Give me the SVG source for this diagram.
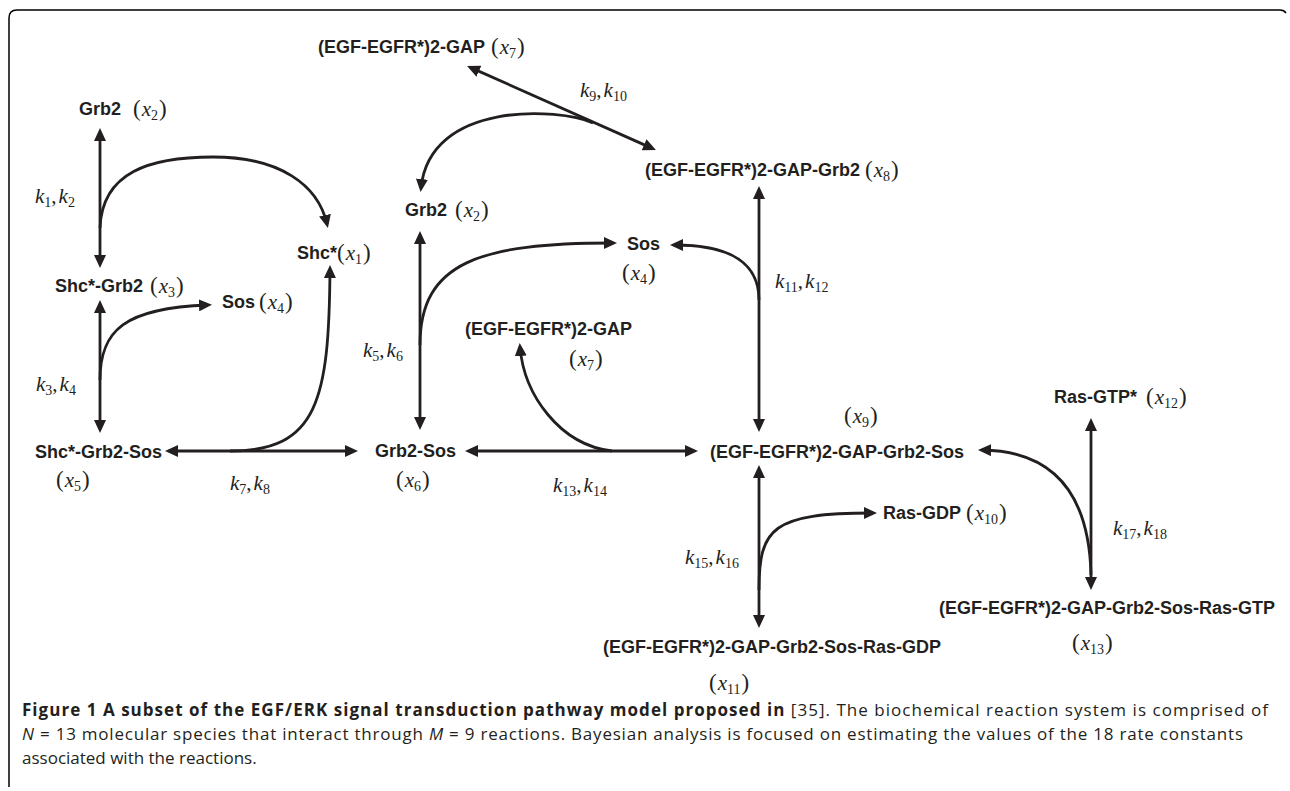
<svg xmlns="http://www.w3.org/2000/svg" width="1290" height="791" viewBox="0 0 1290 791">
<defs>
<style>
.n{font-family:"Liberation Sans",Arial,sans-serif;font-weight:bold;font-size:18px;fill:#231f20}
.m{font-family:"Liberation Serif","Times New Roman",serif;font-size:21px;fill:#231f20}
.p{font-size:23px}
.i{font-style:italic}
.s{font-size:14px;font-style:normal}
.c{font-family:"Open Sans","Noto Sans",sans-serif;font-size:17px;fill:#231f20}
.b{font-weight:bold}
.ln{fill:none;stroke:#231f20;stroke-width:2.8}
.fr{fill:none;stroke:#000;stroke-width:1.5}
</style>
<marker id="ah" viewBox="0 0 13 12" refX="9" refY="6" markerWidth="13" markerHeight="12" orient="auto-start-reverse" markerUnits="userSpaceOnUse">
<path d="M0,0 L13,6 L0,12 z" fill="#231f20"/>
</marker>
</defs>
<rect width="1290" height="791" fill="#fff"/>
<path class="fr" d="M9,787 L9,18 Q9,10 17,10 L1280,10 Q1284,10 1286,13"/>

<g id="connectors">
<path class="ln" d="M100,132 L100,264" marker-start="url(#ah)" marker-end="url(#ah)"/>
<path class="ln" d="M100,228 C102,172 150,157 213,157 C280,157 318,185 327,224" marker-end="url(#ah)"/>
<path class="ln" d="M100,304 L100,429" marker-start="url(#ah)" marker-end="url(#ah)"/>
<path class="ln" d="M100,380 C100,330 125,308 208,305" marker-end="url(#ah)"/>
<path class="ln" d="M169,451 L354,451" marker-start="url(#ah)" marker-end="url(#ah)"/>
<path class="ln" d="M230,451 C318,451 329,400 330,269" marker-end="url(#ah)"/>
<path class="ln" d="M470.7,67.6 L652.3,148.4" marker-start="url(#ah)" marker-end="url(#ah)"/>
<path class="ln" d="M593,123 C560,108 430,100 421,188" marker-end="url(#ah)"/>
<path class="ln" d="M420,235 L420,426" marker-start="url(#ah)" marker-end="url(#ah)"/>
<path class="ln" d="M420,345 C420,262 480,243 613,243" marker-end="url(#ah)"/>
<path class="ln" d="M759,190 L759,428" marker-start="url(#ah)" marker-end="url(#ah)"/>
<path class="ln" d="M759,300 C759,262 730,245 674,245" marker-end="url(#ah)"/>
<path class="ln" d="M612,451 C560,445 524,395 520,347" marker-end="url(#ah)"/>
<path class="ln" d="M469,451 L694,451" marker-start="url(#ah)" marker-end="url(#ah)"/>
<path class="ln" d="M759,469 L759,624" marker-start="url(#ah)" marker-end="url(#ah)"/>
<path class="ln" d="M759,590 C759,528 772,513 873,513" marker-end="url(#ah)"/>
<path class="ln" d="M1091,422 L1091,586" marker-start="url(#ah)" marker-end="url(#ah)"/>
<path class="ln" d="M1091,575 C1089,490 1050,451 982,450" marker-end="url(#ah)"/>
</g>

<g id="rate-labels">
<text class="m" x="35" y="203"><tspan class="i">k</tspan><tspan class="s" dy="4">1</tspan><tspan dy="-4">,</tspan><tspan class="i" dx="2">k</tspan><tspan class="s" dy="4">2</tspan></text>
<text class="m" x="36" y="391"><tspan class="i">k</tspan><tspan class="s" dy="4">3</tspan><tspan dy="-4">,</tspan><tspan class="i" dx="2">k</tspan><tspan class="s" dy="4">4</tspan></text>
<text class="m" x="363" y="357"><tspan class="i">k</tspan><tspan class="s" dy="4">5</tspan><tspan dy="-4">,</tspan><tspan class="i" dx="2">k</tspan><tspan class="s" dy="4">6</tspan></text>
<text class="m" x="230" y="490"><tspan class="i">k</tspan><tspan class="s" dy="4">7</tspan><tspan dy="-4">,</tspan><tspan class="i" dx="2">k</tspan><tspan class="s" dy="4">8</tspan></text>
<text class="m" x="580" y="97"><tspan class="i">k</tspan><tspan class="s" dy="4">9</tspan><tspan dy="-4">,</tspan><tspan class="i" dx="2">k</tspan><tspan class="s" dy="4">10</tspan></text>
<text class="m" x="775" y="288"><tspan class="i">k</tspan><tspan class="s" dy="4">11</tspan><tspan dy="-4">,</tspan><tspan class="i" dx="2">k</tspan><tspan class="s" dy="4">12</tspan></text>
<text class="m" x="553" y="492"><tspan class="i">k</tspan><tspan class="s" dy="4">13</tspan><tspan dy="-4">,</tspan><tspan class="i" dx="2">k</tspan><tspan class="s" dy="4">14</tspan></text>
<text class="m" x="685" y="564"><tspan class="i">k</tspan><tspan class="s" dy="4">15</tspan><tspan dy="-4">,</tspan><tspan class="i" dx="2">k</tspan><tspan class="s" dy="4">16</tspan></text>
<text class="m" x="1113" y="535"><tspan class="i">k</tspan><tspan class="s" dy="4">17</tspan><tspan dy="-4">,</tspan><tspan class="i" dx="2">k</tspan><tspan class="s" dy="4">18</tspan></text>
</g>

<g id="grb2-left">
<text class="n" x="79" y="115">Grb2</text>
<text class="m" x="133" y="116"><tspan class="p">(</tspan><tspan class="i" dx="1">x</tspan><tspan class="s" dy="4">2</tspan><tspan class="p" dy="-4" dx="1">)</tspan></text>
</g>
<g id="shc">
<text class="n" x="297" y="259">Shc*</text>
<text class="m" x="337" y="260"><tspan class="p">(</tspan><tspan class="i" dx="1">x</tspan><tspan class="s" dy="4">1</tspan><tspan class="p" dy="-4" dx="1">)</tspan></text>
</g>
<g id="shc-grb2">
<text class="n" x="55" y="292">Shc*-Grb2</text>
<text class="m" x="150" y="293"><tspan class="p">(</tspan><tspan class="i" dx="1">x</tspan><tspan class="s" dy="4">3</tspan><tspan class="p" dy="-4" dx="1">)</tspan></text>
</g>
<g id="sos-left">
<text class="n" x="222" y="308">Sos</text>
<text class="m" x="259" y="309"><tspan class="p">(</tspan><tspan class="i" dx="1">x</tspan><tspan class="s" dy="4">4</tspan><tspan class="p" dy="-4" dx="1">)</tspan></text>
</g>
<g id="shc-grb2-sos">
<text class="n" x="35" y="458">Shc*-Grb2-Sos</text>
<text class="m" x="56" y="487"><tspan class="p">(</tspan><tspan class="i" dx="1">x</tspan><tspan class="s" dy="4">5</tspan><tspan class="p" dy="-4" dx="1">)</tspan></text>
</g>
<g id="gap-top">
<text class="n" x="318" y="53">(EGF-EGFR*)2-GAP</text>
<text class="m" x="491" y="54"><tspan class="p">(</tspan><tspan class="i" dx="1">x</tspan><tspan class="s" dy="4">7</tspan><tspan class="p" dy="-4" dx="1">)</tspan></text>
</g>
<g id="gap-grb2">
<text class="n" x="645" y="176">(EGF-EGFR*)2-GAP-Grb2</text>
<text class="m" x="865" y="177"><tspan class="p">(</tspan><tspan class="i" dx="1">x</tspan><tspan class="s" dy="4">8</tspan><tspan class="p" dy="-4" dx="1">)</tspan></text>
</g>
<g id="grb2-center">
<text class="n" x="405" y="216">Grb2</text>
<text class="m" x="455" y="217"><tspan class="p">(</tspan><tspan class="i" dx="1">x</tspan><tspan class="s" dy="4">2</tspan><tspan class="p" dy="-4" dx="1">)</tspan></text>
</g>
<g id="sos-center">
<text class="n" x="627" y="250">Sos</text>
<text class="m" x="622" y="280"><tspan class="p">(</tspan><tspan class="i" dx="1">x</tspan><tspan class="s" dy="4">4</tspan><tspan class="p" dy="-4" dx="1">)</tspan></text>
</g>
<g id="gap-mid">
<text class="n" x="465" y="335">(EGF-EGFR*)2-GAP</text>
<text class="m" x="569" y="366"><tspan class="p">(</tspan><tspan class="i" dx="1">x</tspan><tspan class="s" dy="4">7</tspan><tspan class="p" dy="-4" dx="1">)</tspan></text>
</g>
<g id="grb2-sos">
<text class="n" x="375" y="457">Grb2-Sos</text>
<text class="m" x="396" y="487"><tspan class="p">(</tspan><tspan class="i" dx="1">x</tspan><tspan class="s" dy="4">6</tspan><tspan class="p" dy="-4" dx="1">)</tspan></text>
</g>
<g id="gap-grb2-sos">
<text class="m" x="844" y="423"><tspan class="p">(</tspan><tspan class="i" dx="1">x</tspan><tspan class="s" dy="4">9</tspan><tspan class="p" dy="-4" dx="1">)</tspan></text>
<text class="n" x="710" y="458">(EGF-EGFR*)2-GAP-Grb2-Sos</text>
</g>
<g id="ras-gdp">
<text class="n" x="883" y="519">Ras-GDP</text>
<text class="m" x="966" y="520"><tspan class="p">(</tspan><tspan class="i" dx="1">x</tspan><tspan class="s" dy="4">10</tspan><tspan class="p" dy="-4" dx="1">)</tspan></text>
</g>
<g id="gap-grb2-sos-ras-gdp">
<text class="n" x="603" y="653">(EGF-EGFR*)2-GAP-Grb2-Sos-Ras-GDP</text>
<text class="m" x="709" y="690"><tspan class="p">(</tspan><tspan class="i" dx="1">x</tspan><tspan class="s" dy="4">11</tspan><tspan class="p" dy="-4" dx="1">)</tspan></text>
</g>
<g id="ras-gtp">
<text class="n" x="1054" y="403">Ras-GTP*</text>
<text class="m" x="1146" y="404"><tspan class="p">(</tspan><tspan class="i" dx="1">x</tspan><tspan class="s" dy="4">12</tspan><tspan class="p" dy="-4" dx="1">)</tspan></text>
</g>
<g id="gap-grb2-sos-ras-gtp">
<text class="n" x="939" y="614">(EGF-EGFR*)2-GAP-Grb2-Sos-Ras-GTP</text>
<text class="m" x="1072" y="650"><tspan class="p">(</tspan><tspan class="i" dx="1">x</tspan><tspan class="s" dy="4">13</tspan><tspan class="p" dy="-4" dx="1">)</tspan></text>
</g>

<g id="caption">
<text class="c" x="22" y="716" textLength="1246"><tspan class="b">Figure 1 A subset of the EGF/ERK signal transduction pathway model proposed in</tspan> [35]. The biochemical reaction system is comprised of</text>
<text class="c" x="22" y="740" textLength="1221"><tspan font-style="italic">N</tspan> = 13 molecular species that interact through <tspan font-style="italic">M</tspan> = 9 reactions. Bayesian analysis is focused on estimating the values of the 18 rate constants</text>
<text class="c" x="22" y="764">associated with the reactions.</text>
</g>
</svg>
